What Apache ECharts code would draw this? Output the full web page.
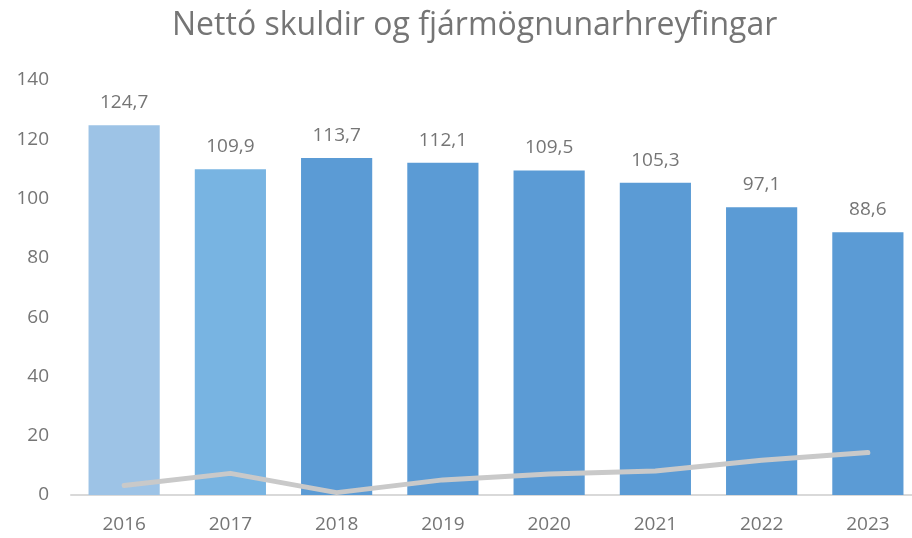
<!DOCTYPE html>
<html><head><meta charset="utf-8">
<script src="https://cdn.jsdelivr.net/npm/echarts@6/dist/echarts.min.js"></script>
<style>html,body{margin:0;padding:0;background:#fff}#c{width:912px;height:538px}</style>
</head><body><div id="c"></div>
<script>
var categories = ['2016','2017','2018','2019','2020','2021','2022','2023'];
var barValues = [124.7, 109.9, 113.7, 112.1, 109.5, 105.3, 97.1, 88.6];
var lineValues = [3.2, 7.3, 0.8, 5.1, 7.1, 8.1, 11.7, 14.3];
var yTicks = [0, 20, 40, 60, 80, 100, 120, 140];
var barColors = ['#9dc3e6', '#78b4e2', '#5b9bd5', '#5b9bd5', '#5b9bd5', '#5b9bd5', '#5b9bd5', '#5b9bd5'];

var font = 'Open Sans';
var chart = echarts.init(document.getElementById('c'));
chart.setOption({
  animation: false,
  title: {
    text: 'Nettó skuldir og fjármögnunarhreyfingar',
    left: 167, top: 5,
    textStyle: { fontFamily: font, fontSize: 32, fontWeight: 'normal', color: '#757575' }
  },
  grid: { left: 71, width: 850, top: 80, height: 415, containLabel: false, outerBoundsMode: 'none' },
  xAxis: {
    type: 'category', data: categories,
    axisLine: { lineStyle: { color: '#d9d9d9', width: 2 } },
    axisTick: { show: false },
    axisLabel: { fontFamily: font, fontSize: 19, color: '#757575', margin: 20 }
  },
  yAxis: {
    type: 'value', min: yTicks[0], max: yTicks[yTicks.length - 1], interval: 20,
    axisLine: { show: false }, axisTick: { show: false },
    splitLine: { show: false },
    axisLabel: { fontFamily: font, fontSize: 19, color: '#757575', margin: 22 }
  },
  series: [
    {
      type: 'bar', barWidth: '67%',
      data: barValues.map(function (v, i) { return { value: v, itemStyle: { color: barColors[i] } }; }),
      label: {
        show: true, position: 'top', distance: 13,
        fontFamily: font, fontSize: 19, color: '#757575',
        formatter: function (p) { return p.value.toFixed(1).replace('.', ','); }
      },
      z: 2
    },
    {
      type: 'line', data: lineValues, symbol: 'none',
      lineStyle: { color: '#c9c9c9', width: 5, cap: 'round', join: 'round' },
      z: 3
    }
  ]
});
</script>
</body></html>
